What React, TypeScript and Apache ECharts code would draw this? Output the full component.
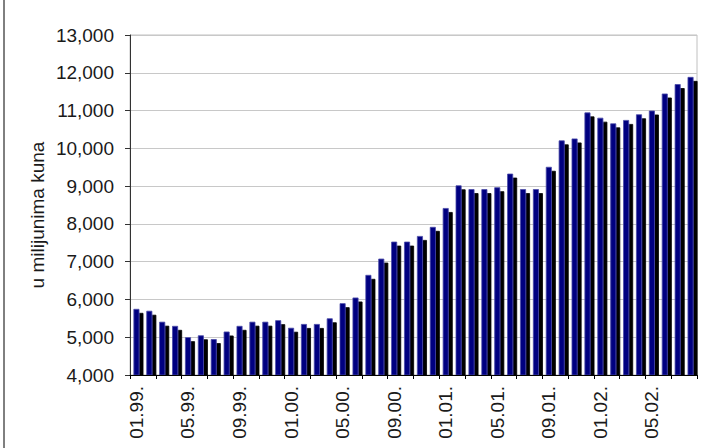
import React, { useEffect, useRef } from "react";
import * as echarts from "echarts";

const categories = [
  "01.99.", "02.99.", "03.99.", "04.99.", "05.99.", "06.99.", "07.99.", "08.99.", "09.99.", "10.99.", "11.99.", "12.99.",
  "01.00.", "02.00.", "03.00.", "04.00.", "05.00.", "06.00.", "07.00.", "08.00.", "09.00.", "10.00.", "11.00.", "12.00.",
  "01.01.", "02.01.", "03.01.", "04.01.", "05.01.", "06.01.", "07.01.", "08.01.", "09.01.", "10.01.", "11.01.", "12.01.",
  "01.02.", "02.02.", "03.02.", "04.02.", "05.02.", "06.02.", "07.02.", "08.02.",
];

const values = [
  5750, 5700, 5410, 5300, 5000, 5050, 4950, 5150, 5300, 5410, 5410, 5450,
  5250, 5350, 5350, 5500, 5900, 6050, 6650, 7080, 7530, 7530, 7680, 7920,
  8420, 9020, 8920, 8920, 8970, 9330, 8920, 8920, 9510, 10210, 10260, 10950,
  10810, 10660, 10750, 10900, 11000, 11450, 11700, 11890,
];

const yAxisTitle = "u milijunima kuna";
const yMin = 4000;
const yMax = 13000;
const yStep = 1000;

const FONT = "'Liberation Sans', Arial, sans-serif";
const FS = 19;

export default function App() {
  const ref = useRef<HTMLDivElement>(null);

  useEffect(() => {
    if (!ref.current) return;
    const chart = echarts.init(ref.current, null, { renderer: "svg" });
    chart.setOption({
      animation: false,
      backgroundColor: "#ffffff",
      textStyle: { fontFamily: FONT },
      grid: {
        left: 130,
        top: 35,
        width: 567,
        height: 340,
        show: true,
        borderColor: "#c0c0c0",
        borderWidth: 1,
        backgroundColor: "transparent",
      },
      xAxis: {
        type: "category",
        data: categories,
        boundaryGap: true,
        z: 5,
        axisLine: { lineStyle: { color: "#000000", width: 1 } },
        axisTick: { show: true, interval: 1, length: 4, lineStyle: { color: "#000000" } },
        axisLabel: {
          interval: 3,
          rotate: 90,
          margin: 11,
          fontSize: FS,
          color: "#1a1a1a",
          fontFamily: FONT,
        },
        splitLine: { show: false },
      },
      yAxis: {
        type: "value",
        min: yMin,
        max: yMax,
        interval: yStep,
        axisLine: { show: true, lineStyle: { color: "#333333", width: 1 } },
        axisTick: { show: true, length: 5, lineStyle: { color: "#333333" } },
        axisLabel: {
          margin: 16,
          fontSize: FS,
          color: "#1a1a1a",
          fontFamily: FONT,
          formatter: (v: number) => v.toLocaleString("en-US"),
        },
        splitLine: { show: true, lineStyle: { color: "#c8c8c8", width: 1 } },
      },
      graphic: [
        {
          type: "rect",
          z: 3,
          shape: { x: 120, y: 376, width: 590, height: 80 },
          style: { fill: "#ffffff" },
          silent: true,
        },
        {
          type: "line",
          shape: { x1: 4, y1: 0, x2: 4, y2: 448 },
          style: { stroke: "#000000", lineWidth: 1 },
          silent: true,
        },
        {
          type: "text",
          x: 37,
          y: 215,
          rotation: Math.PI / 2,
          style: {
            text: yAxisTitle,
            font: `${FS}px ${FONT}`,
            fill: "#1a1a1a",
            align: "center",
            verticalAlign: "middle",
          },
          silent: true,
        },
      ],
      series: [
        {
          type: "bar",
          data: values,
          barWidth: 6,
          clip: true,
          itemStyle: {
            color: "#000080",
            borderColor: "#4a4aa8",
            borderWidth: 0.8,
            shadowColor: "#000000",
            shadowBlur: 0,
            shadowOffsetX: 4,
            shadowOffsetY: 4,
          },
        },
      ],
    });
    return () => chart.dispose();
  }, []);

  return (
    <div
      ref={ref}
      style={{ position: "fixed", left: 0, top: 0, width: 707, height: 448, background: "#fff" }}
    />
  );
}
